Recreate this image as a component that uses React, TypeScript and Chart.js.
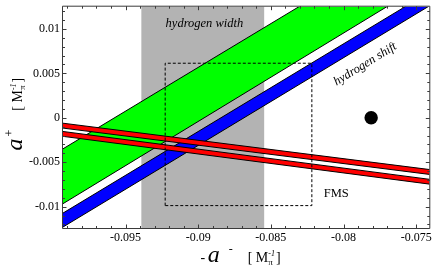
import React, { useEffect, useRef } from "react";
import { Chart, registerables } from "chart.js";

Chart.register(...registerables);

const SERIF = "'Liberation Serif', 'Times New Roman', serif";

// axis ranges
const xRange = [-0.0993, -0.0741];
const yRange = [-0.0124, 0.0125];

// tick labels
const xTickValues = [-0.095, -0.09, -0.085, -0.08, -0.075];
const xTickLabels = ["-0.095", "-0.09", "-0.085", "-0.08", "-0.075"];
const yTickValues = [0.01, 0.005, 0, -0.005, -0.01];
const yTickLabels = ["0.01", "0.005", "0", "-0.005", "-0.01"];

// diagonal bands: y of each edge at bandX[0] and bandX[1]
const bandX = [-0.1, -0.073];
const greenUpper = [-0.00418, 0.02242];
const greenLower = [-0.01036, 0.0165];
const blueUpper = [-0.01141, 0.01523];
const blueLower = [-0.01298, 0.01367];
const redAUpper = [-0.000465, -0.006047];
const redALower = [-0.001015, -0.006597];
const redBUpper = [-0.00139, -0.007155];
const redBLower = [-0.00194, -0.007694];

// hydrogen width (vertical band) x extent
const widthBandX = [-0.09391, -0.08546];
const widthBandY = [-0.02, 0.02];

// FMS dashed box
const fmsBoxX = [-0.09227, -0.08218];
const fmsBoxY = [-0.00988, 0.00614];

// black point
const pointX = [-0.0781];
const pointY = [0];

// annotations
const annoText = ["hydrogen width", "hydrogen shift", "FMS"];
const annoX = [-0.08957, -0.07851, -0.0805];
const annoY = [0.01063, 0.00603, -0.00851];
const annoAngle = [0, -31.6, 0];
const annoItalic = [true, true, false];

type Run = { t: string; size: number; italic?: boolean; dy?: number; gap?: number; stack?: boolean };

const xTitleRuns: Run[] = [
  { t: "-", size: 14 },
  { t: "a", size: 24, italic: true, gap: 2.5 },
  { t: "-", size: 12, dy: -9, gap: 9 },
  { t: "[", size: 14, gap: 15 },
  { t: " M", size: 14 },
  { t: "π", size: 9, dy: 3 },
  { t: "-1", size: 8, italic: true, dy: -6, stack: true },
  { t: "]", size: 14, gap: 1 },
];

const yTitleRuns: Run[] = [
  { t: "a", size: 24, italic: true },
  { t: "+", size: 12, dy: -9, gap: 2 },
  { t: "[", size: 14, gap: 19 },
  { t: " M", size: 14 },
  { t: "π", size: 9, dy: 3 },
  { t: "-1", size: 8, italic: true, dy: -6, stack: true },
  { t: "]", size: 14, gap: 1 },
];

function drawRuns(ctx: CanvasRenderingContext2D, runs: Run[], x0: number, y0: number) {
  let x = x0;
  let prevStart = x0;
  let prevEnd = x0;
  ctx.textAlign = "left";
  ctx.textBaseline = "alphabetic";
  for (const r of runs) {
    ctx.font = `${r.italic ? "italic " : ""}${r.size}px ${SERIF}`;
    const start = r.stack ? prevStart : x + (r.gap || 0);
    ctx.fillText(r.t, start, y0 + (r.dy || 0));
    const end = start + ctx.measureText(r.t).width;
    x = r.stack ? Math.max(prevEnd, end) : end;
    if (!r.stack) prevStart = start;
    prevEnd = x;
  }
}

function band(u: number[], l: number[]) {
  return [
    { x: bandX[0], y: u[0] },
    { x: bandX[1], y: u[1] },
    { x: bandX[1], y: l[1] },
    { x: bandX[0], y: l[0] },
    { x: bandX[0], y: u[0] },
  ];
}

function rect(xs: number[], ys: number[]) {
  return [
    { x: xs[0], y: ys[0] },
    { x: xs[0], y: ys[1] },
    { x: xs[1], y: ys[1] },
    { x: xs[1], y: ys[0] },
    { x: xs[0], y: ys[0] },
  ];
}

const framePlugin = {
  id: "frameTicks",
  afterDraw(chart: any) {
    const { ctx, chartArea: a, scales } = chart;
    const xs = scales.x;
    const ys = scales.y;
    ctx.save();
    // annotations
    ctx.fillStyle = "#000";
    for (let i = 0; i < annoText.length; i++) {
      const px = xs.getPixelForValue(annoX[i]);
      const py = ys.getPixelForValue(annoY[i]);
      ctx.save();
      ctx.translate(px, py);
      ctx.rotate((annoAngle[i] * Math.PI) / 180);
      ctx.font = `${annoItalic[i] ? "italic " : ""}12.5px ${SERIF}`;
      ctx.textAlign = "center";
      ctx.textBaseline = "middle";
      ctx.fillText(annoText[i], 0, 0);
      ctx.restore();
    }
    // frame + ticks
    ctx.strokeStyle = "#3a3a3a";
    ctx.lineWidth = 1;
    ctx.beginPath();
    const L = a.left - 0.5, R = a.right + 0.5, T = a.top - 0.5, B = a.bottom + 0.5;
    ctx.rect(L, T, R - L, B - T);
    for (let i = -99; i <= -74; i++) {
      const v = i / 1000;
      if (v < xRange[0] || v > xRange[1]) continue;
      const p = Math.round(xs.getPixelForValue(v)) + 0.5;
      const len = i % 5 === 0 ? 4 : 2.5;
      ctx.moveTo(p, B); ctx.lineTo(p, B - len);
      ctx.moveTo(p, T); ctx.lineTo(p, T + len);
    }
    for (let i = -12; i <= 12; i++) {
      const v = i / 1000;
      if (v < yRange[0] || v > yRange[1]) continue;
      const p = Math.round(ys.getPixelForValue(v)) + 0.5;
      const len = i % 5 === 0 ? 4 : 2.5;
      ctx.moveTo(L, p); ctx.lineTo(L + len, p);
      ctx.moveTo(R, p); ctx.lineTo(R - len, p);
    }
    ctx.stroke();
    // axis titles
    ctx.fillStyle = "#000";
    drawRuns(ctx, xTitleRuns, 200.5, 261.5);
    ctx.save();
    ctx.translate(22, 150.5);
    ctx.rotate(-Math.PI / 2);
    drawRuns(ctx, yTitleRuns, 0, 0);
    ctx.restore();
    ctx.restore();
  },
};

export default function App() {
  const ref = useRef<HTMLCanvasElement>(null);
  useEffect(() => {
    if (!ref.current) return;
    const common = { pointRadius: 0, borderWidth: 1, borderColor: "#000", tension: 0 };
    const chart = new Chart(ref.current, {
      type: "line",
      data: {
        datasets: [
          { ...common, data: pointX.map((x, i) => ({ x, y: pointY[i] })), showLine: false, pointRadius: 6.7, pointBackgroundColor: "#000", pointBorderWidth: 0, order: 0 } as any,
          { ...common, data: rect(fmsBoxX, fmsBoxY), fill: false, borderDash: [3, 2], order: 1 },
          { ...common, data: band(redBUpper, redBLower), fill: "shape", backgroundColor: "#ff0000", order: 2 },
          { ...common, data: band(redAUpper, redALower), fill: "shape", backgroundColor: "#ff0000", order: 3 },
          { ...common, data: band(blueUpper, blueLower), fill: "shape", backgroundColor: "#0000ff", order: 4 },
          { ...common, data: band(greenUpper, greenLower), fill: "shape", backgroundColor: "#00ff00", order: 5 },
          { ...common, data: rect(widthBandX, widthBandY), fill: "shape", backgroundColor: "#b3b3b3", borderWidth: 0, order: 6 },
        ],
      },
      options: {
        animation: false,
        responsive: false,
        events: [],
        layout: { padding: { top: 1, right: 5, left: 0, bottom: 0 } },
        plugins: { legend: { display: false }, tooltip: { enabled: false } },
        scales: {
          x: {
            type: "linear",
            min: xRange[0],
            max: xRange[1],
            grid: { display: false, drawTicks: false },
            border: { display: false },
            ticks: {
              font: { family: SERIF, size: 12 },
              color: "#000",
              padding: 3,
              maxRotation: 0,
              autoSkip: false,
              callback: (v: any) => {
                const i = xTickValues.findIndex((t) => Math.abs(t - Number(v)) < 1e-9);
                return i >= 0 ? xTickLabels[i] : "";
              },
            },
            afterBuildTicks: (s: any) => {
              s.ticks = xTickValues.map((value) => ({ value }));
            },
            afterFit: (s: any) => {
              s.height = 41;
              s.paddingLeft = 0;
              s.paddingRight = 0;
            },
          },
          y: {
            type: "linear",
            min: yRange[0],
            max: yRange[1],
            grid: { display: false, drawTicks: false },
            border: { display: false },
            ticks: {
              font: { family: SERIF, size: 12 },
              color: "#000",
              padding: 3,
              autoSkip: false,
              callback: (v: any) => {
                const i = yTickValues.findIndex((t) => Math.abs(t - Number(v)) < 1e-9);
                return i >= 0 ? yTickLabels[i] : "";
              },
            },
            afterBuildTicks: (s: any) => {
              s.ticks = yTickValues.map((value) => ({ value }));
            },
            afterFit: (s: any) => {
              s.width = 63;
              s.paddingTop = 0;
              s.paddingBottom = 0;
            },
          },
        },
      },
      plugins: [framePlugin],
    });
    return () => chart.destroy();
  }, []);
  return (
    <div style={{ position: "absolute", left: 0, top: 0, width: 436, height: 269, background: "#fff" }}>
      <canvas ref={ref} width={436} height={269} style={{ display: "block" }} />
    </div>
  );
}
